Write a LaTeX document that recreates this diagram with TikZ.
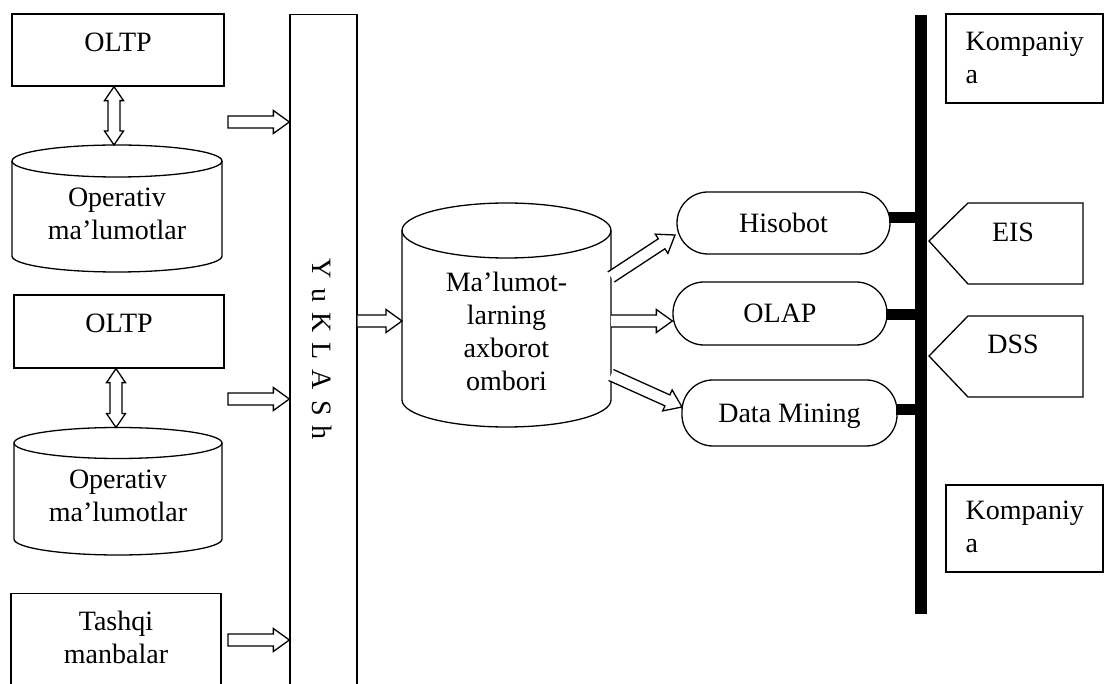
\documentclass[tikz,border=0pt]{standalone}
\usepackage{fontspec}
\setmainfont{Liberation Serif}
\usetikzlibrary{calc}
\newcommand\blockarrow[3][]{%
  \path (#2); \pgfgetlastxy{\bax}{\bay}%
  \path (#3); \pgfgetlastxy{\bbx}{\bby}%
  \pgfmathsetmacro\bang{atan2(\bby-\bay,\bbx-\bax)}%
  \pgfmathsetmacro\blen{veclen(\bbx-\bax,\bby-\bay)}%
  \begin{scope}[shift={(\bax,\bay)}, rotate=\bang]
    \fill[white] (0pt,-6pt) -- ({(\blen-16)*1pt},-6pt) -- ({(\blen-16)*1pt},-11.5pt) -- ({\blen*1pt},0pt) -- ({(\blen-16)*1pt},11.5pt) -- ({(\blen-16)*1pt},6pt) -- (0pt,6pt) -- cycle;
    \draw[line join=miter] (0pt,-6pt) -- ({(\blen-16)*1pt},-6pt) -- ({(\blen-16)*1pt},-11.5pt) -- ({\blen*1pt},0pt) -- ({(\blen-16)*1pt},11.5pt) -- ({(\blen-16)*1pt},6pt) -- (0pt,6pt) #1;
  \end{scope}}
\newcommand\dblarrow[2]{%
  \path (#1); \pgfgetlastxy{\bax}{\bay}%
  \path (#2); \pgfgetlastxy{\bbx}{\bby}%
  \pgfmathsetmacro\bang{atan2(\bby-\bay,\bbx-\bax)}%
  \pgfmathsetmacro\blen{veclen(\bbx-\bax,\bby-\bay)}%
  \begin{scope}[shift={(\bax,\bay)}, rotate=\bang]
    \filldraw[fill=white, line join=miter] (0pt,0pt) -- (14pt,-9.5pt) -- (14pt,-6pt) -- ({(\blen-14)*1pt},-6pt) -- ({(\blen-14)*1pt},-9.5pt) -- ({\blen*1pt},0pt) -- ({(\blen-14)*1pt},9.5pt) -- ({(\blen-14)*1pt},6pt) -- (14pt,6pt) -- (14pt,9.5pt) -- cycle;
  \end{scope}}
\begin{document}
\begin{tikzpicture}[x=1pt,y=-1pt, line width=1.3pt,
  every node/.style={font=\fontsize{28}{33}\selectfont, inner sep=0pt, align=center},
  box/.style={draw, line width=1.3pt},
  pill/.style={draw, line width=1.3pt, rounded corners=31pt},
  stub/.style={line width=11pt},
  bus/.style={line width=12pt},
]
\useasboundingbox (0,0) rectangle (1104,684);
\clip (0,0) rectangle (1104,684);

% ---- left column ----
\node[box, minimum width=212pt, minimum height=72pt, text depth=16pt] (oltp1) at (118,50) {OLTP};
\node (oper1) at (117,214) {Operativ\\ma’lumotlar};
\draw (12,161) -- (12,256) arc[start angle=180, end angle=360, x radius=105pt, y radius=16pt] -- (222,161);
\draw (117,161) ellipse [x radius=105pt, y radius=16pt];
\coordinate (c1top) at (117,145);

\node[box, minimum width=210pt, minimum height=73pt, text depth=16pt] (oltp2) at (119,331.5) {OLTP};
\node (oper2) at (118,496) {Operativ\\ma’lumotlar};
\draw (14,443) -- (14,539) arc[start angle=180, end angle=360, x radius=104pt, y radius=16pt] -- (222,443);
\draw (118,443) ellipse [x radius=104pt, y radius=15.5pt];
\coordinate (c2top) at (118,427.5);

\node[box, minimum width=210pt, minimum height=140pt, anchor=north] (tashqibox) at (116,593) {};
\node (tashqi) at (116,637) {Tashqi\\manbalar};

\coordinate (d1s) at ([xshift=-4pt]oltp1.south);
\coordinate (d1e) at (d1s |- c1top);
\dblarrow{d1s}{d1e}
\coordinate (d2s) at ([xshift=-3pt]oltp2.south);
\coordinate (d2e) at (d2s |- c2top);
\dblarrow{d2s}{d2e}

% ---- YuKLASh ----
\node[box, minimum width=67pt, minimum height=700pt, anchor=north] (yuk) at (323.5,14) {};
\node[rotate=-90] (yuktext) at (322,349) {Y\hspace{10pt}u\hspace{10pt}K\hspace{10pt}L\hspace{10pt}A\hspace{10pt}S\hspace{10pt}h};

\coordinate (a1s) at (228,122);
\coordinate (a1e) at (yuk.west |- a1s);
\blockarrow[-- cycle]{a1s}{a1e}
\coordinate (a2s) at (228,399);
\coordinate (a2e) at (yuk.west |- a2s);
\blockarrow[-- cycle]{a2s}{a2e}
\coordinate (a3s) at (228,640);
\coordinate (a3e) at (yuk.west |- a3s);
\blockarrow[-- cycle]{a3s}{a3e}

% ---- warehouse cylinder ----
\node (wh) at (506.5,331) {Ma’lumot-\\larning\\axborot\\ombori};
\draw (402,230.5) -- (402,400) arc[start angle=180, end angle=360, x radius=104.5pt, y radius=27pt] -- (611,230.5);
\draw (506.5,230.5) ellipse [x radius=104.5pt, y radius=27.5pt];
\coordinate (whw) at (402,321);

\coordinate (a4s) at (yuk.east |- whw);
\blockarrow{a4s}{whw}

% ---- tools ----
\node[pill, minimum width=213pt, minimum height=62pt] (hisobot) at (783.5,223) {Hisobot};
\node[pill, minimum width=214pt, minimum height=63pt] (olap) at (780,313.5) {OLAP};
\node[pill, minimum width=215pt, minimum height=66pt, text depth=0pt] (dm) at (789.5,413) {Data Mining};

\coordinate (w1) at (611,277);
\coordinate (t1) at (675,235);
\blockarrow{w1}{t1}
\coordinate (w2) at (611,321);
\coordinate (t2) at (olap.west |- w2);
\blockarrow{w2}{t2}
\coordinate (w3) at (611,375);
\coordinate (t3) at (682,407);
\blockarrow{w3}{t3}

% ---- bus ----
\coordinate (bustop) at (921,15);
\coordinate (busbot) at (921,614);
\draw[bus] (bustop) -- (busbot);
\coordinate (b1) at (921,218);
\coordinate (b2) at (921,315);
\coordinate (b3) at (921,410);
\draw[stub] ([xshift=-2pt]hisobot.east |- b1) -- (b1);
\draw[stub] ([xshift=-2pt]olap.east |- b2) -- (b2);
\draw[stub] ([xshift=-2pt]dm.east |- b3) -- (b3);

% ---- right side ----
\node[box, minimum width=157pt, minimum height=89pt] (komp1) at (1024.5,58.5) {};
\node[anchor=north west, align=left] (komp1t) at (965,31) {Kompaniy\\a};
\node[box, minimum width=157pt, minimum height=87pt] (komp2) at (1024.5,528.5) {};
\node[anchor=north west, align=left] (komp2t) at (965,500) {Kompaniy\\a};

\draw[line join=miter] (929,241) -- (968,203) -- (1083,203) -- (1083,284) -- (968,284) -- cycle;
\node (eis) at (1013,232) {EIS};
\draw[line join=miter] (929,356) -- (968,316) -- (1083,316) -- (1083,397) -- (968,397) -- cycle;
\node (dss) at (1013,344) {DSS};
\end{tikzpicture}
\end{document}
